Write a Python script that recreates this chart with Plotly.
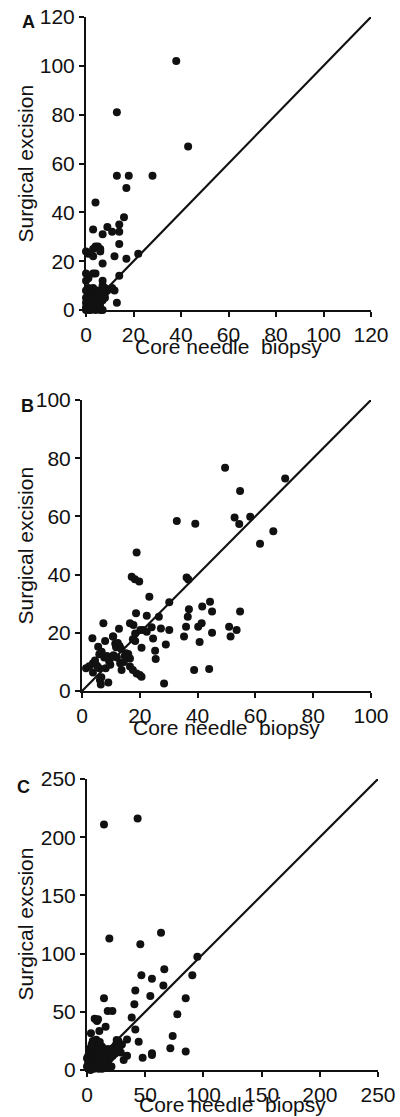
import plotly.graph_objects as go

# ---------------- Panel A data ----------------
a_x = [38, 13, 43, 13, 18, 28, 17, 4, 16, 14, 14, 3, 9, 11, 7, 14,
       0, 1, 3, 4, 5, 6, 6, 3, 12, 17, 22, 7,
       0, 1, 3, 4, 0, 7, 7, 14, 12, 13, 8, 11,
       0, 0, 0, 0, 1, 1, 1, 2, 2, 2, 3, 3, 4, 4, 4, 5, 5, 6, 6, 7, 8, 9,
       3, 1, 5, 2, 0, 6, 4, 2, 7, 6, 5, 1, 3, 8, 2, 4]
a_y = [102, 81, 67, 55, 55, 55, 50, 44, 38, 35, 32, 33, 34, 32, 31, 27,
       24, 23, 25, 26, 26, 25, 24, 22, 22, 21, 23, 19,
       15, 13, 15, 15, 12, 12, 10, 14, 8, 3, 9, 9,
       5, 3, 1, 0, 6, 2, 4, 0, 3, 7, 1, 5, 0, 3, 6, 2, 5, 7, 1, 4, 7, 8,
       9, 9, 8, 5, 8, 3, 1, 2, 0, 0, 6, 0, 3, 5, 1, 4]

# ---------------- Panel B data ----------------
b_x = [49.5, 70.3, 54.7, 52.8, 54.4, 58.2, 32.8, 39.2, 61.6, 66.2,
       18.9, 17.2, 18.3, 19.8, 36.2, 36.8, 23.3, 30.2, 44.3, 41.6, 37.0, 45.0, 54.7,
       18.7, 36.6, 22.4, 26.6, 7.4, 16.6, 17.8, 27.3, 30.2, 24.1, 21.2, 22.4, 12.8,
       36.0, 40.2, 41.4, 50.9, 53.5, 45.0, 35.3, 51.4, 24.6, 40.7, 3.6, 8.0, 10.7,
       20.6, 29.0, 25.3, 25.5, 5.6, 1.4, 6.2, 6.5, 9.1, 16.6, 17.6, 18.9, 20.0, 20.6,
       28.4, 38.8, 44.0,
       3.8, 3.8, 6.0, 6.0, 6.7, 7.7, 9.4, 8.2, 5.2, 10.9, 11.5, 12.1, 13.0, 13.5,
       13.2, 13.7, 10.8, 16.0, 16.6, 18.4, 17.6, 18.4, 20.2, 4.5, 6.8, 8.6, 11.8,
       14.5, 15.2, 2.5, 9.8, 12.4, 14.8]
b_y = [76.7, 73.0, 68.7, 59.6, 57.4, 59.9, 58.4, 57.5, 50.6, 54.9,
       47.6, 39.3, 38.4, 37.6, 39.0, 38.3, 32.4, 30.5, 30.7, 29.0, 28.1, 27.3, 27.3,
       26.7, 25.5, 25.9, 25.5, 23.3, 23.3, 22.7, 21.5, 21.0, 21.9, 21.0, 20.4, 21.4,
       22.1, 22.1, 23.3, 22.1, 21.0, 20.0, 18.7, 18.7, 18.0, 16.8, 18.1, 17.2, 18.7,
       14.9, 16.0, 13.8, 11.0, 15.2, 7.8, 3.8, 2.2, 2.9, 8.4, 7.2, 6.0, 5.5, 4.9,
       2.6, 7.2, 7.6,
       9.5, 6.4, 12.6, 7.8, 4.7, 11.5, 10.1, 7.8, 8.7, 12.3, 16.2, 11.5, 15.5, 14.5,
       9.5, 7.2, 18.7, 12.7, 11.2, 17.2, 17.8, 19.8, 21.0, 10.5, 13.5, 12.0, 15.0,
       10.0, 13.0, 8.5, 9.0, 16.5, 12.0]

# ---------------- Panel C data ----------------
c_x = [14.6, 43.5, 63.6, 19.2, 45.8, 94.8, 66.4, 46.7, 90.5, 55.8, 65.6, 41.5,
       54.4, 84.8, 14.6, 40.7, 17.8, 21.8, 77.6, 38.4, 6.6, 8.6, 9.5, 16.0, 41.5,
       10.6, 73.6, 3.4, 34.4, 44.4, 71.6, 84.8, 55.8, 55.8, 47.8, 31.5, 34.4, 19.2,
       25.5, 27.0, 7.0, 5.0, 10.0,
       1, 1, 1, 1, 2, 2, 3, 3, 3, 4, 4, 5, 5, 6, 6, 6, 7, 7, 8, 8, 9, 9, 10, 10,
       11, 12, 12, 13, 14, 15, 15, 16, 17, 18, 18, 20, 20, 21, 22, 23, 24, 25, 26,
       27, 28, 29, 30, 8, 5, 11, 4, 16, 13, 2, 0, 0]
c_y = [211, 216, 118, 113, 108, 97.4, 86.5, 81.3, 81.3, 78.5, 72.5, 68.4,
       63.6, 61.6, 61.6, 56.4, 50.7, 50.7, 47.8, 45.0, 44.1, 42.1, 43.5, 37.2, 34.7,
       33.5, 29.2, 31.5, 26.3, 24.3, 18.6, 15.8, 14.3, 12.9, 10.6, 8.6, 12.3, 2.9,
       25.8, 23.0, 25.0, 24.0, 24.0,
       2, 5, 8, 12, 15, 18, 0, 6, 10, 3, 14, 8, 20, 1, 5, 12, 16, 9, 3, 22, 6, 13, 1, 18,
       9, 4, 14, 20, 7, 11, 16, 2, 13, 6, 18, 10, 15, 3, 12, 19, 14, 22, 17,
       25, 20, 15, 22, 26, 25, 24, 22, 8, 1, 1, 3, 10]

# axis settings
a_ticks = [0, 20, 40, 60, 80, 100, 120]
b_ticks = [0, 20, 40, 60, 80, 100]
c_ticks = [0, 50, 100, 150, 200, 250]

W, H = 400, 1117
FONT = "Liberation Sans, Arial, Helvetica, sans-serif"
INK = "#111111"

panels = [
    (a_x, a_y, a_ticks, 120, (86, 371), (17, 310), "A", (28, 22), "Surgical excision", 36.5),
    (b_x, b_y, b_ticks, 100, (82, 371), (400, 691), "B", (27, 406), "Surgical excision", 36.5),
    (c_x, c_y, c_ticks, 250, (87, 378), (779, 1070), "C", (23, 787), "Surgical excsion", 34.5),
]

fig = go.Figure()
annotations = []
layout_axes = {}
for i, (xs, ys, ticks, vmax, (x0, x1), (yt, yb), letter, (lx, ly), ytitle, toff) in enumerate(panels, start=1):
    sfx = "" if i == 1 else str(i)
    xa, ya = "x" + sfx, "y" + sfx
    fig.add_trace(go.Scatter(x=[0, vmax], y=[0, vmax], mode="lines",
                             line=dict(color=INK, width=2.2), xaxis=xa, yaxis=ya,
                             showlegend=False, hoverinfo="skip", cliponaxis=False))
    fig.add_trace(go.Scatter(x=xs, y=ys, mode="markers",
                             marker=dict(color=INK, size=8, line=dict(width=0)),
                             xaxis=xa, yaxis=ya, showlegend=False, cliponaxis=False))
    common = dict(showgrid=False, zeroline=False, showline=True, linecolor=INK,
                  linewidth=2, ticks="outside", ticklen=5, tickwidth=2,
                  tickcolor=INK, tickfont=dict(family=FONT, size=21, color=INK),
                  range=[0, vmax], tickvals=ticks, fixedrange=True, automargin=False)
    layout_axes["xaxis" + sfx] = dict(common, domain=[x0 / W, x1 / W], anchor=ya)
    layout_axes["yaxis" + sfx] = dict(common, domain=[1 - yb / H, 1 - yt / H], anchor=xa)
    annotations.append(dict(text="<b>%s</b>" % letter, x=lx / W, y=1 - ly / H,
                            xref="paper", yref="paper", showarrow=False,
                            xanchor="center", yanchor="middle",
                            font=dict(family=FONT, size=18, color=INK)))
    annotations.append(dict(text=ytitle, x=25 / W, y=1 - (yt + yb) / 2 / H,
                            xref="paper", yref="paper", showarrow=False, textangle=-90,
                            xanchor="center", yanchor="middle",
                            font=dict(family=FONT, size=21, color=INK)))
    annotations.append(dict(text="Core needle\u00a0 biopsy", x=(x0 + x1) / 2 / W,
                            y=1 - (yb + toff) / H, xref="paper", yref="paper",
                            showarrow=False, xanchor="center", yanchor="middle",
                            font=dict(family=FONT, size=21, color=INK)))

fig.update_layout(width=W, height=H, margin=dict(l=0, r=0, t=0, b=0),
                  plot_bgcolor="white", paper_bgcolor="white",
                  annotations=annotations, **layout_axes)

fig.write_html("out.html", config={"displayModeBar": False, "staticPlot": True},
               post_script="document.body.style.margin='0';document.body.style.overflow='hidden';")
